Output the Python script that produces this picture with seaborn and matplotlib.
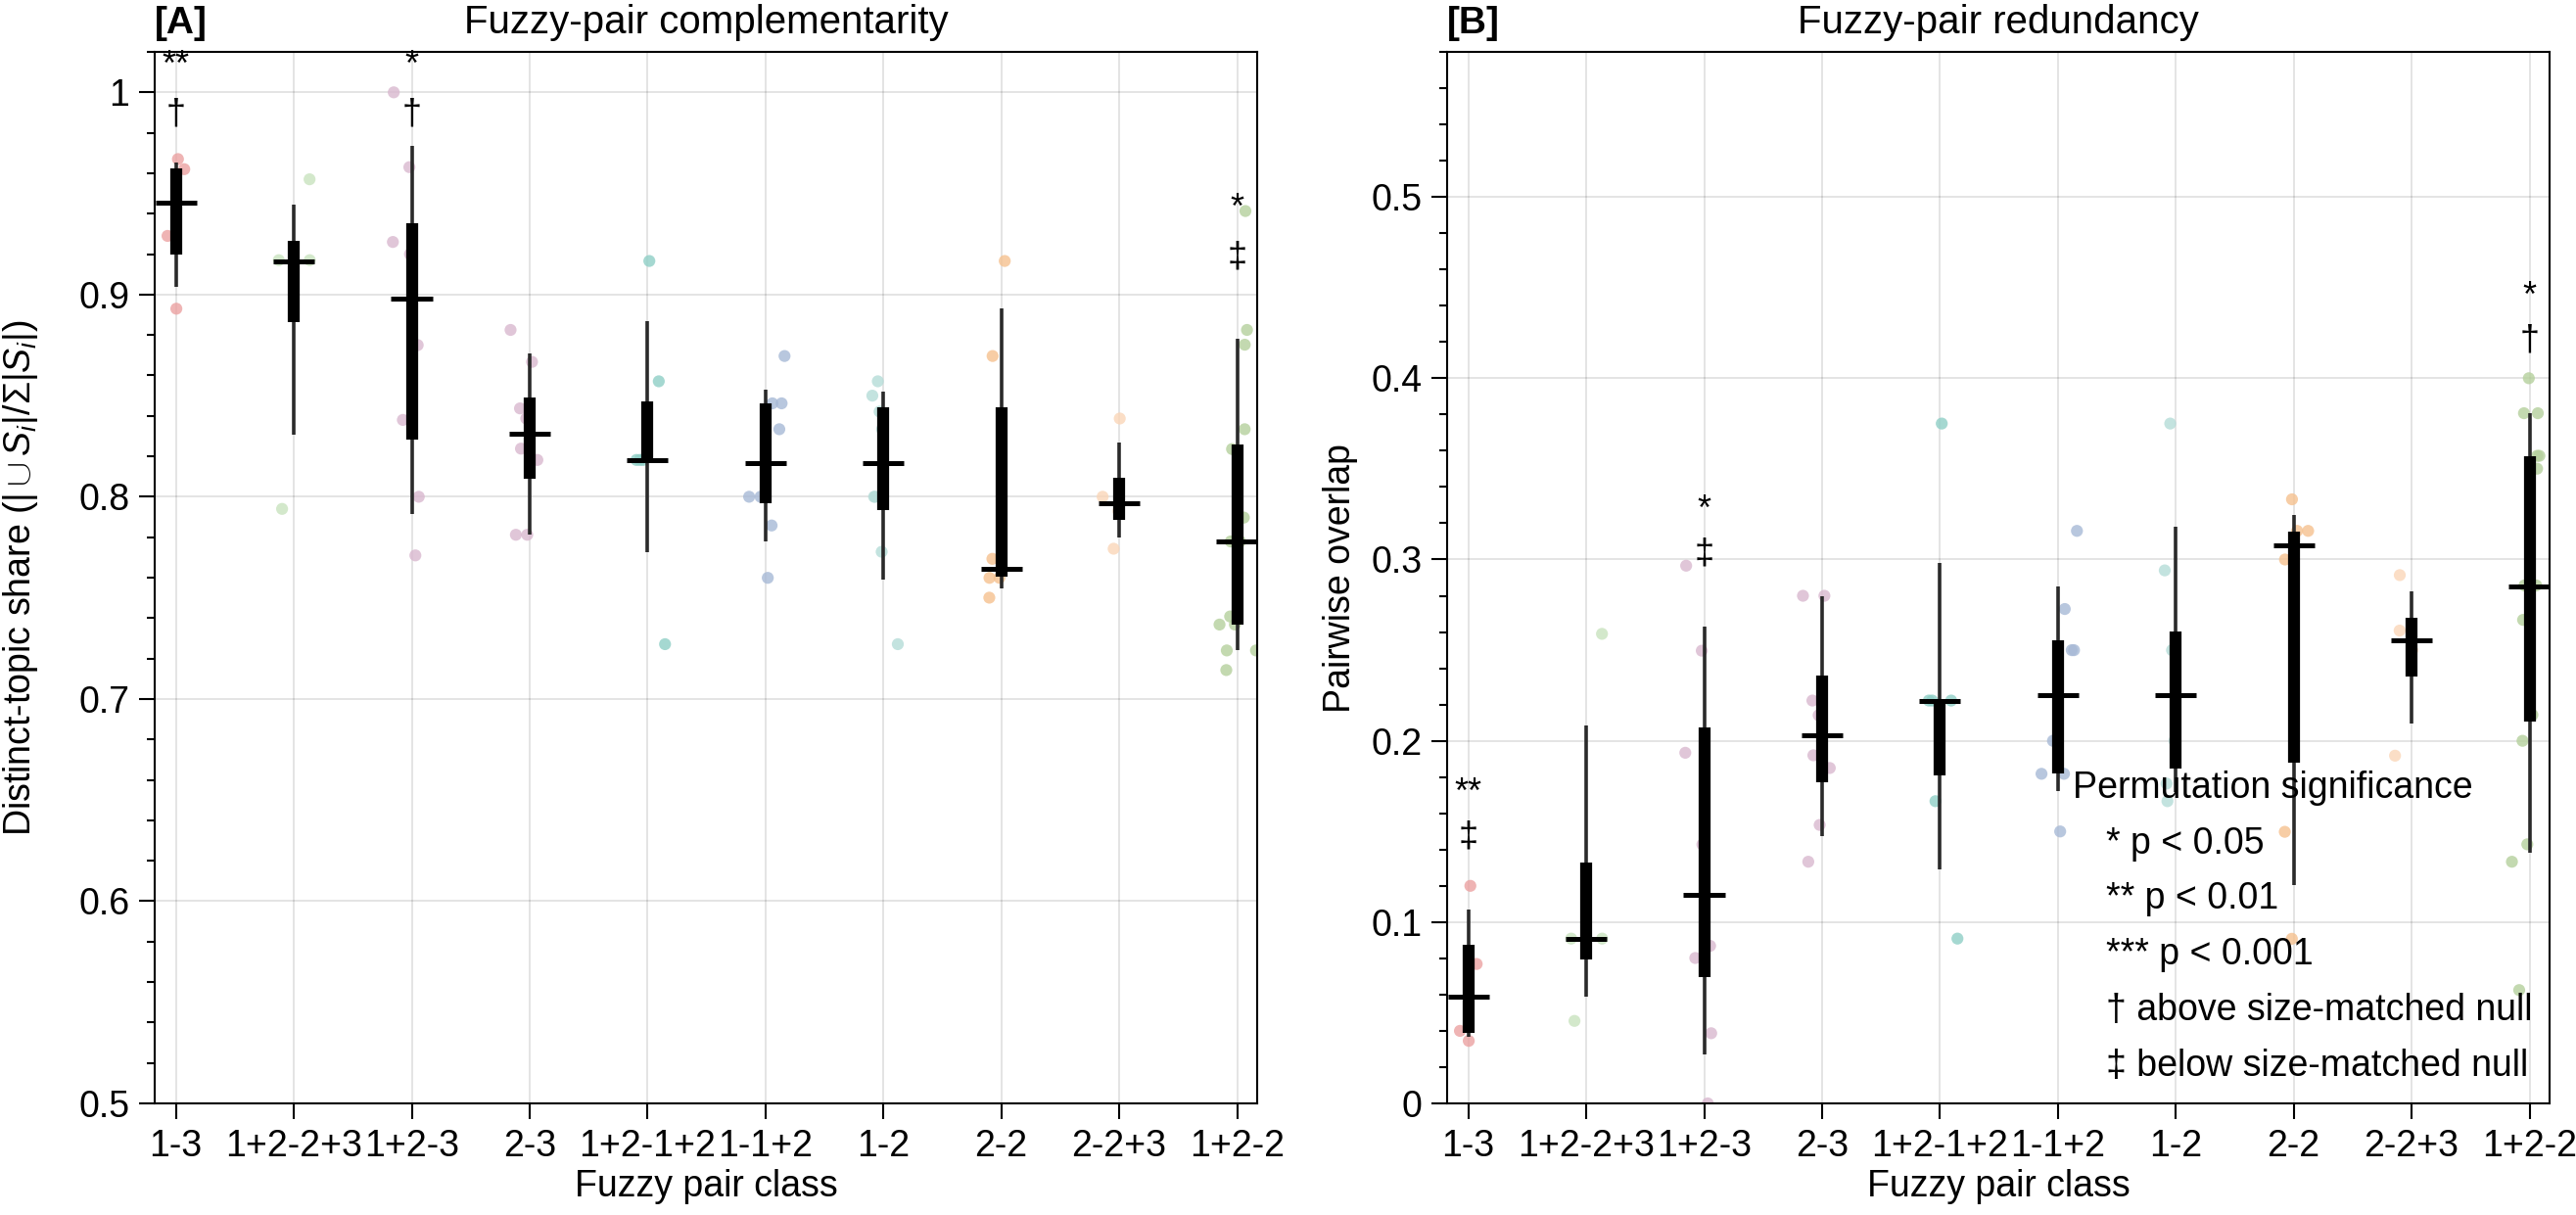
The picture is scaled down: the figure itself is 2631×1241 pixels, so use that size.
import numpy as np
import pandas as pd
import seaborn as sns
import matplotlib.pyplot as plt
from matplotlib.ticker import MultipleLocator, FuncFormatter

sns.set_style('ticks')
plt.rcParams['font.family'] = ['Liberation Sans', 'DejaVu Sans']
plt.rcParams['mathtext.fontset'] = 'custom'
plt.rcParams['mathtext.rm'] = 'Liberation Sans'
plt.rcParams['mathtext.it'] = 'Liberation Sans:italic'
plt.rcParams['mathtext.bf'] = 'Liberation Sans:bold'
for k in ['text.color', 'axes.labelcolor', 'xtick.color', 'ytick.color', 'axes.edgecolor']:
    plt.rcParams[k] = 'black'

classes = ['1-3', '1+2-2+3', '1+2-3', '2-3', '1+2-1+2', '1-1+2', '1-2', '2-2', '2-2+3', '1+2-2']
class_colors = ['#EBA1A1', '#C9E3BF', '#D9B8CF', '#D9B8CF', '#8FCFC6',
                '#A7B9D6', '#B5DCD8', '#F5C18F', '#FAD6B8', '#B5D09C']

# [A] distinct-topic share, one list of pair values per class
comp_points = [
    [0.967, 0.962, 0.929, 0.893],
    [0.957, 0.917, 0.917, 0.794],
    [1.0, 0.963, 0.926, 0.920, 0.875, 0.838, 0.800, 0.771],
    [0.8825, 0.8667, 0.8437, 0.8387, 0.8238, 0.8182, 0.7812, 0.7812],
    [0.9166, 0.8571, 0.8182, 0.8182, 0.8182, 0.7271],
    [0.8696, 0.8462, 0.8462, 0.8334, 0.8, 0.8, 0.7858, 0.7599],
    [0.8571, 0.85, 0.8421, 0.8334, 0.8, 0.8, 0.7728, 0.7271],
    [0.9166, 0.8696, 0.7693, 0.7599, 0.7599, 0.7501],
    [0.8387, 0.8, 0.7929, 0.7743],
    [0.9413, 0.8825, 0.8752, 0.8334, 0.8236, 0.7897, 0.7779, 0.7779,
     0.7408, 0.7368, 0.7368, 0.724, 0.724, 0.7143],
]
comp_median = [0.9453, 0.9166, 0.8978, 0.8313, 0.8182, 0.8167, 0.8167, 0.7645, 0.7966, 0.7779]
comp_q1 = [0.9199, 0.8865, 0.8284, 0.809, 0.8182, 0.7967, 0.7933, 0.7603, 0.7885, 0.7368]
comp_q3 = [0.9626, 0.9266, 0.9352, 0.8493, 0.8472, 0.846, 0.8441, 0.8443, 0.8092, 0.8259]
comp_p10 = [0.9037, 0.8309, 0.7916, 0.7814, 0.7728, 0.7781, 0.759, 0.7549, 0.7799, 0.724]
comp_p90 = [0.9655, 0.9444, 0.9737, 0.8711, 0.8869, 0.8529, 0.8518, 0.893, 0.8268, 0.8782]
comp_stars = ['**', '', '*', '', '', '', '', '', '', '*']
comp_null = ['\u2020', '', '\u2020', '', '', '', '', '', '', '\u2021']

# [B] pairwise overlap
red_points = [
    [0.12, 0.0769, 0.04, 0.0345],
    [0.259, 0.0909, 0.0909, 0.0455],
    [0.2966, 0.2497, 0.1934, 0.1428, 0.0869, 0.0802, 0.0387, 0.0],
    [0.28, 0.28, 0.2222, 0.2141, 0.192, 0.185, 0.1536, 0.1333],
    [0.375, 0.2222, 0.2222, 0.2222, 0.1667, 0.0909],
    [0.3158, 0.2727, 0.25, 0.25, 0.2, 0.1818, 0.1818, 0.15],
    [0.375, 0.294, 0.25, 0.2, 0.1764, 0.1667],
    [0.3332, 0.3158, 0.3158, 0.3, 0.1498, 0.0908],
    [0.2914, 0.2608, 0.25, 0.1918],
    [0.4, 0.3807, 0.3807, 0.3572, 0.3572, 0.3501, 0.2857, 0.2857,
     0.2667, 0.2143, 0.2, 0.1429, 0.1333, 0.0625],
]
red_median = [0.0586, 0.0906, 0.1149, 0.2029, 0.2221, 0.225, 0.225, 0.3077, 0.2552, 0.2854]
red_q1 = [0.0389, 0.0796, 0.0698, 0.177, 0.1808, 0.1819, 0.1848, 0.1878, 0.2356, 0.2106]
red_q3 = [0.0873, 0.1326, 0.2073, 0.236, 0.2221, 0.2552, 0.2603, 0.3154, 0.2681, 0.3572]
red_p10 = [0.0365, 0.059, 0.0272, 0.1476, 0.1288, 0.1724, 0.172, 0.1204, 0.2095, 0.1381]
red_p90 = [0.1067, 0.2084, 0.2632, 0.2798, 0.2983, 0.2854, 0.3182, 0.3244, 0.2822, 0.3807]
red_stars = ['**', '', '*', '', '', '', '', '', '', '*']
red_null = ['\u2021', '', '\u2021', '', '', '', '', '', '', '\u2020']

legend_title = 'Permutation significance'
legend_lines = ['* p < 0.05', '** p < 0.01', '*** p < 0.001',
                '\u2020 above size-matched null', '\u2021 below size-matched null']


def draw_panel(ax, points, med, q1, q3, p10, p90, stars, nulls, ylim):
    df = pd.DataFrame({'cls': np.repeat(classes, [len(p) for p in points]),
                       'value': np.concatenate(points)})
    np.random.seed(3)
    sns.stripplot(data=df, x='cls', y='value', hue='cls', order=classes,
                  hue_order=classes, palette=class_colors, jitter=0.17, size=4.4,
                  alpha=0.8, linewidth=0, legend=False, ax=ax, zorder=2)
    pos = np.arange(len(classes))
    ax.vlines(pos, p10, p90, color='#2a2a2a', lw=1.3, zorder=3)
    ax.vlines(pos, q1, q3, color='black', lw=4.4, zorder=4)
    ax.hlines(med, pos - 0.175, pos + 0.175, color='black', lw=1.8, zorder=5)
    for i in pos:
        if nulls[i]:
            y = min(p90[i] + 0.04, ylim[1] - 0.031)
            ax.text(i, y, nulls[i], ha='center', va='center', fontsize=13, zorder=6)
            ax.text(i, y + 0.024, stars[i], ha='center', va='center', fontsize=13, zorder=6)

    ax.set_xlim(-0.18, len(classes) - 1 + 0.17)
    ax.set_ylim(*ylim)
    ax.yaxis.set_major_locator(MultipleLocator(0.1))
    ax.yaxis.set_minor_locator(MultipleLocator(0.02))
    ax.yaxis.set_major_formatter(FuncFormatter(lambda v, _: f'{v:g}'))
    ax.grid(True, which='major', color='black', alpha=0.11, lw=0.7)
    ax.set_axisbelow(True)
    for s in ax.spines.values():
        s.set_visible(True)
        s.set_linewidth(0.75)
        s.set_color('black')
    ax.tick_params(axis='both', which='major', direction='out', length=5.8, width=0.75,
                   labelsize=13.5, pad=3.5, top=False, right=False)
    ax.tick_params(axis='y', which='minor', direction='out', length=2.9, width=0.75, right=False)
    ax.set_xlabel('Fuzzy pair class', fontsize=13.5, labelpad=2)


fig = plt.figure(figsize=(13.155, 6.205), dpi=200)
ax_a = fig.add_axes([0.06005, 0.09186, 0.42797, 0.86543])
ax_b = fig.add_axes([0.56176, 0.09186, 0.42797, 0.86543])

draw_panel(ax_a, comp_points, comp_median, comp_q1, comp_q3, comp_p10, comp_p90,
           comp_stars, comp_null, (0.5, 1.02))
draw_panel(ax_b, red_points, red_median, red_q1, red_q3, red_p10, red_p90,
           red_stars, red_null, (0.0, 0.58))

ax_a.set_title('Fuzzy-pair complementarity', fontsize=14.5, pad=7)
ax_a.set_title('[A]', loc='left', fontweight='bold', fontsize=14, pad=7)
ax_b.set_title('Fuzzy-pair redundancy', fontsize=14.5, pad=7)
ax_b.set_title('[B]', loc='left', fontweight='bold', fontsize=14, pad=7)

ax_a.set_ylabel(r'Distinct-topic share ($|\cup S_i|/\Sigma|S_i|$)', fontsize=13.5)
ax_a.yaxis.set_label_coords(-0.104, 0.5)
ax_b.set_ylabel('Pairwise overlap', fontsize=13.5)
ax_b.yaxis.set_label_coords(-0.081, 0.5)

# significance key, text only
ax_b.text(0.5675, 0.300, legend_title, transform=ax_b.transAxes, fontsize=13.5,
          ha='left', va='center', zorder=7)
for j, line in enumerate(legend_lines):
    ax_b.text(0.598, 0.247 - j * 0.0528, line, transform=ax_b.transAxes, fontsize=13.5,
              ha='left', va='center', zorder=7)

fig.savefig('out.png', dpi=200, facecolor='white')
